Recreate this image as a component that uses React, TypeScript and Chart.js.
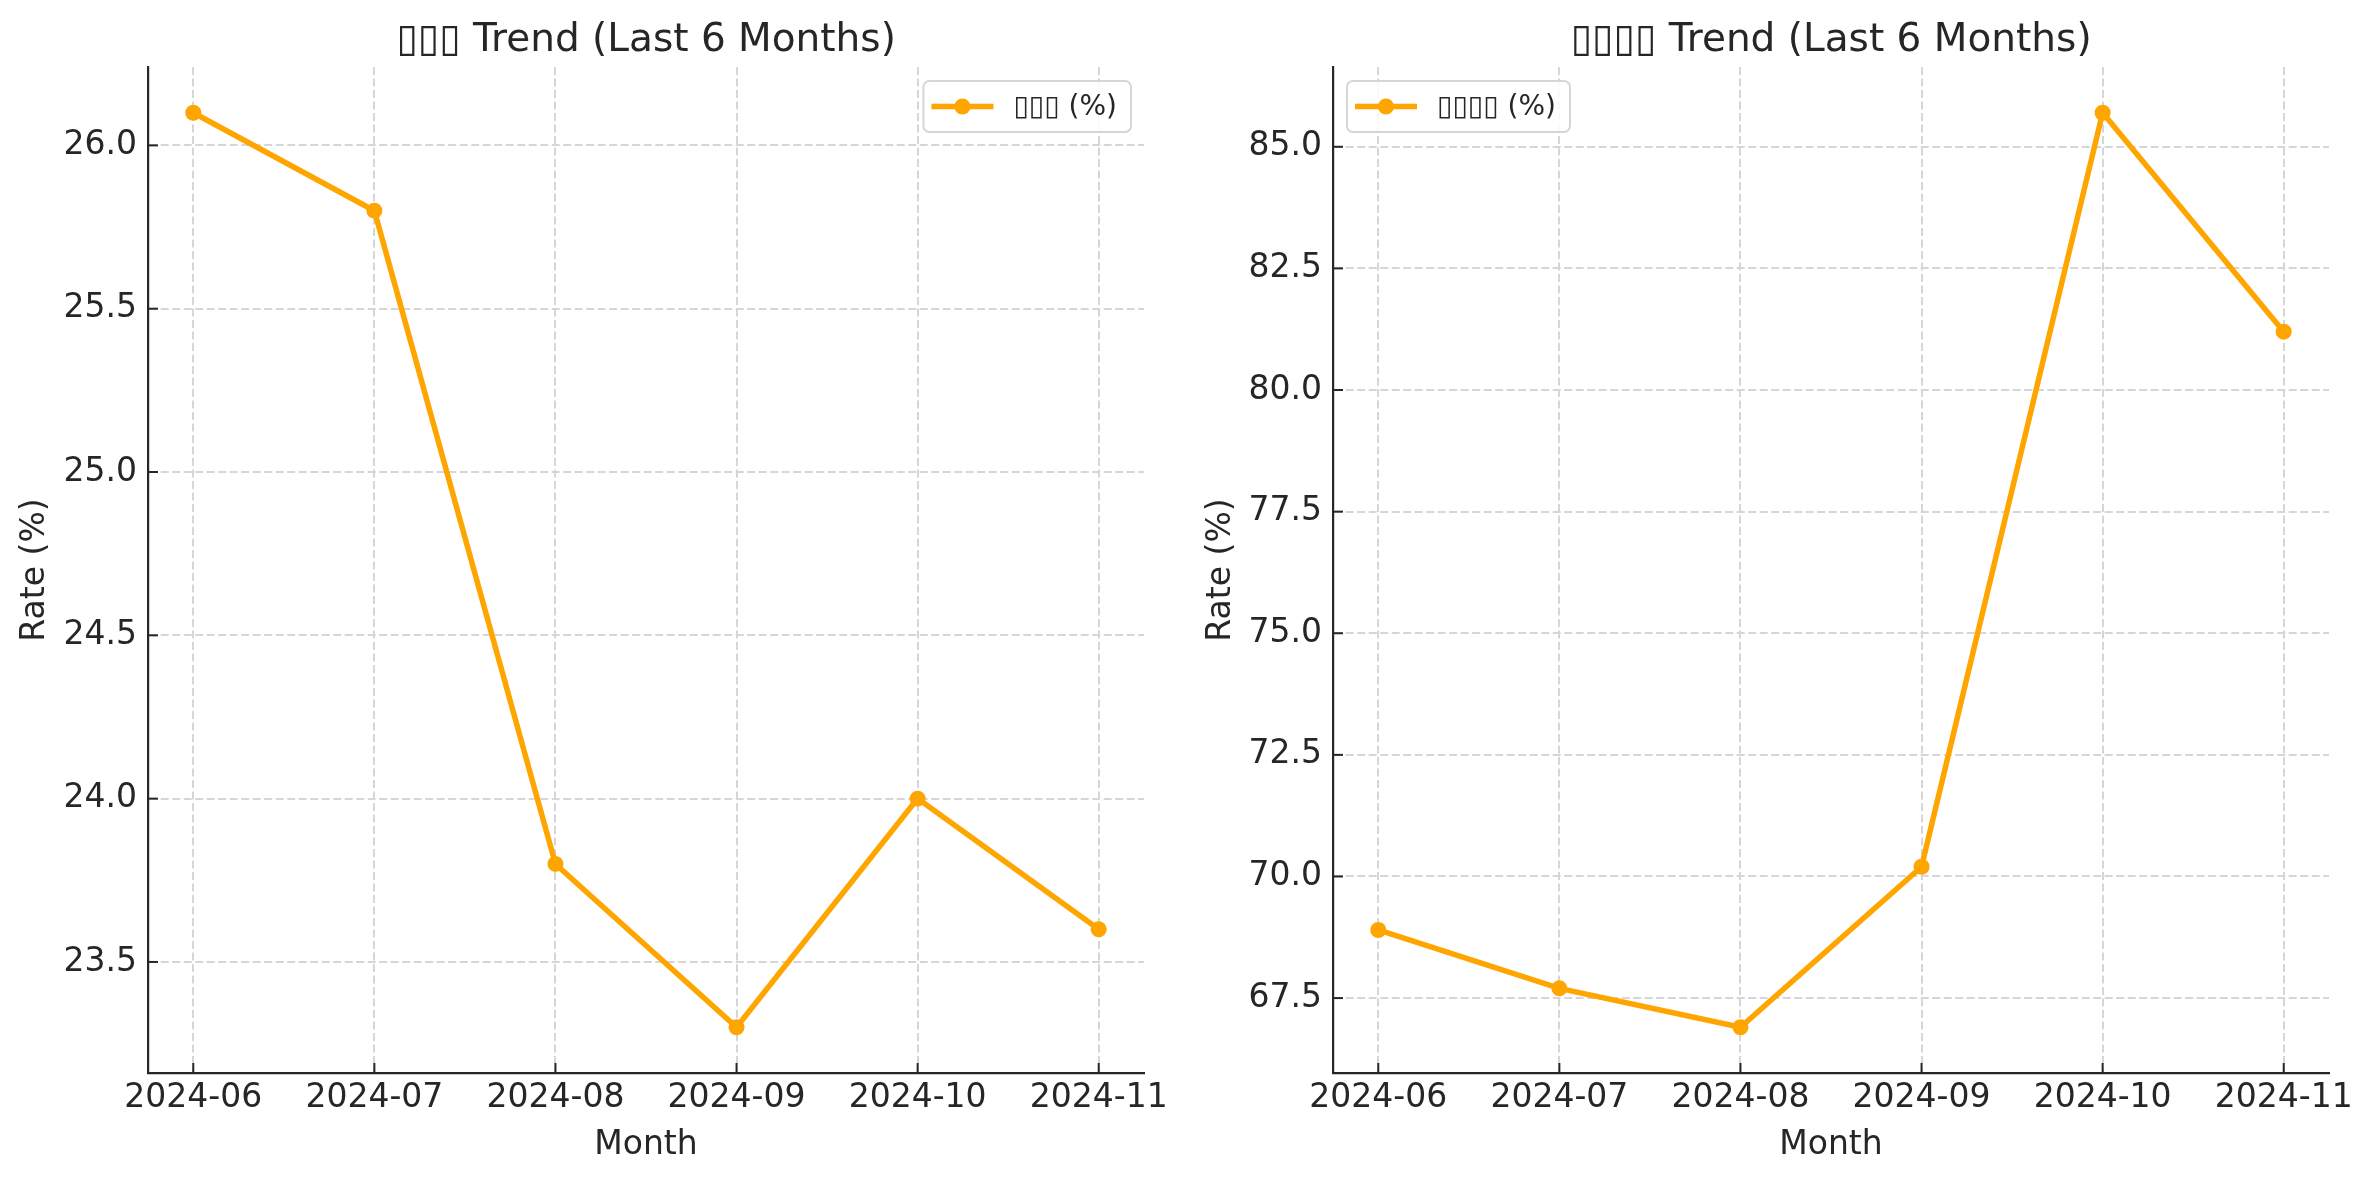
import React, { useEffect, useRef } from "react";
import { Chart, registerables } from "chart.js";

Chart.register(...registerables);

// ---- data ----
const months = ["2024-06", "2024-07", "2024-08", "2024-09", "2024-10", "2024-11"];
const leftValues = [26.1, 25.8, 23.8, 23.3, 24.0, 23.6];
const rightValues = [68.9, 67.7, 66.9, 70.2, 85.7, 81.2];
const leftTicks = [23.5, 24.0, 24.5, 25.0, 25.5, 26.0];
const rightTicks = [67.5, 70.0, 72.5, 75.0, 77.5, 80.0, 82.5, 85.0];
const leftName = "▯▯▯";
const rightName = "▯▯▯▯";
const xTitle = "Month";
const yTitle = "Rate (%)";

// ---- style ----
const FONT = "'DejaVu Sans', sans-serif";
const TEXT = "#262626";
const AXIS = "#262626";
const GRID = "#d6d6d6";
const LINE = "#FFA500";

function makeDecor(label: string, align: "left" | "right") {
  return {
    id: "decor",
    afterDraw(chart: any) {
      const ctx = chart.ctx;
      const { left, right, top, bottom } = chart.chartArea;
      const xs = chart.scales.x;
      const ys = chart.scales.y;
      ctx.save();
      ctx.strokeStyle = AXIS;
      ctx.lineWidth = 2;
      ctx.setLineDash([]);
      xs.ticks.forEach((t: any) => {
        const p = xs.getPixelForValue(t.value);
        ctx.beginPath();
        ctx.moveTo(p, bottom);
        ctx.lineTo(p, bottom - 10);
        ctx.stroke();
      });
      ys.ticks.forEach((t: any) => {
        const p = ys.getPixelForValue(t.value);
        ctx.beginPath();
        ctx.moveTo(left, p);
        ctx.lineTo(left + 10, p);
        ctx.stroke();
      });
      // legend
      ctx.font = `28px ${FONT}`;
      const tw = ctx.measureText(label).width;
      const w = 8 + 62 + 20 + tw + 14;
      const h = 51;
      const x0 = align === "right" ? right - 13 - w : left + 14;
      const y0 = top + 14;
      ctx.beginPath();
      ctx.roundRect(x0, y0, w, h, 6);
      ctx.fillStyle = "rgba(255,255,255,0.85)";
      ctx.fill();
      ctx.strokeStyle = "#d6d6d6";
      ctx.lineWidth = 2;
      ctx.stroke();
      const cy = y0 + h / 2;
      ctx.strokeStyle = LINE;
      ctx.lineWidth = 5.5;
      ctx.beginPath();
      ctx.moveTo(x0 + 8, cy);
      ctx.lineTo(x0 + 70, cy);
      ctx.stroke();
      ctx.fillStyle = LINE;
      ctx.beginPath();
      ctx.arc(x0 + 39, cy, 8, 0, Math.PI * 2);
      ctx.fill();
      ctx.fillStyle = TEXT;
      ctx.textBaseline = "middle";
      ctx.textAlign = "left";
      ctx.fillText(label, x0 + 90, cy + 1);
      ctx.restore();
    },
  };
}

function makeChart(
  canvas: HTMLCanvasElement,
  name: string,
  values: number[],
  yTicks: number[],
  legendAlign: "left" | "right",
  yWidth: number,
  padRight: number
) {
  const lo = Math.min(...values);
  const hi = Math.max(...values);
  const m = (hi - lo) * 0.05;
  const label = `${name} (%)`;
  return new Chart(canvas, {
    type: "line",
    data: {
      datasets: [
        {
          label,
          data: values.map((v, i) => ({ x: i, y: v })),
          borderColor: LINE,
          backgroundColor: LINE,
          borderWidth: 5.5,
          pointRadius: 8,
          pointHoverRadius: 8,
          pointBorderWidth: 0,
          pointBackgroundColor: LINE,
          tension: 0,
          fill: false,
        },
      ],
    },
    options: {
      responsive: false,
      animation: false,
      events: [],
      layout: { padding: { left: 0, right: padRight, top: 0, bottom: 0 } },
      plugins: {
        legend: { display: false },
        tooltip: { enabled: false },
        title: {
          display: true,
          text: `${name} Trend (Last 6 Months)`,
          font: { size: 39, weight: "normal", family: FONT },
          color: TEXT,
          padding: { top: 17.6, bottom: 2.6 },
          fullSize: false,
        },
      },
      scales: {
        x: {
          type: "linear",
          min: -0.25,
          max: 5.25,
          afterBuildTicks: (s: any) => {
            s.ticks = months.map((_, i) => ({ value: i }));
          },
          afterFit: (s: any) => {
            s.height = 107;
          },
          ticks: {
            callback: (v: any) => months[Math.round(Number(v))] ?? "",
            font: { size: 33, family: FONT },
            color: TEXT,
            padding: 6,
            maxRotation: 0,
            autoSkip: false,
          },
          grid: { color: GRID, lineWidth: 2, drawTicks: false },
          border: { display: true, color: AXIS, width: 2.2, dash: [8, 3.5] },
          title: {
            display: true,
            text: xTitle,
            font: { size: 33, family: FONT },
            color: TEXT,
            padding: { top: 0, bottom: 15 },
          },
        },
        y: {
          type: "linear",
          min: lo - m,
          max: hi + m,
          afterBuildTicks: (s: any) => {
            s.ticks = yTicks.map((v) => ({ value: v }));
          },
          afterFit: (s: any) => {
            s.width = yWidth;
          },
          ticks: {
            callback: (v: any) => Number(v).toFixed(1),
            font: { size: 33, family: FONT },
            color: TEXT,
            padding: 11,
          },
          grid: { color: GRID, lineWidth: 2, drawTicks: false },
          border: { display: true, color: AXIS, width: 2.2, dash: [8, 3.5] },
          title: {
            display: true,
            text: yTitle,
            font: { size: 33, family: FONT },
            color: TEXT,
            padding: { top: 16, bottom: 0 },
          },
        },
      },
    } as any,
    plugins: [makeDecor(label, legendAlign) as any],
  });
}

export default function App() {
  const leftRef = useRef<HTMLCanvasElement>(null);
  const rightRef = useRef<HTMLCanvasElement>(null);

  useEffect(() => {
    Chart.defaults.font.family = FONT;
    Chart.defaults.color = TEXT;
    const a = makeChart(leftRef.current!, leftName, leftValues, leftTicks, "right", 148, 42);
    const b = makeChart(rightRef.current!, rightName, rightValues, rightTicks, "left", 147, 44);
    return () => {
      a.destroy();
      b.destroy();
    };
  }, []);

  return (
    <div style={{ position: "fixed", left: 0, top: 0, width: 2373, height: 1180, background: "#fff" }}>
      <canvas
        ref={leftRef}
        width={1186}
        height={1180}
        style={{ position: "absolute", left: 0, top: 0, width: 1186, height: 1180 }}
      />
      <canvas
        ref={rightRef}
        width={1187}
        height={1180}
        style={{ position: "absolute", left: 1186, top: 0, width: 1187, height: 1180 }}
      />
    </div>
  );
}
